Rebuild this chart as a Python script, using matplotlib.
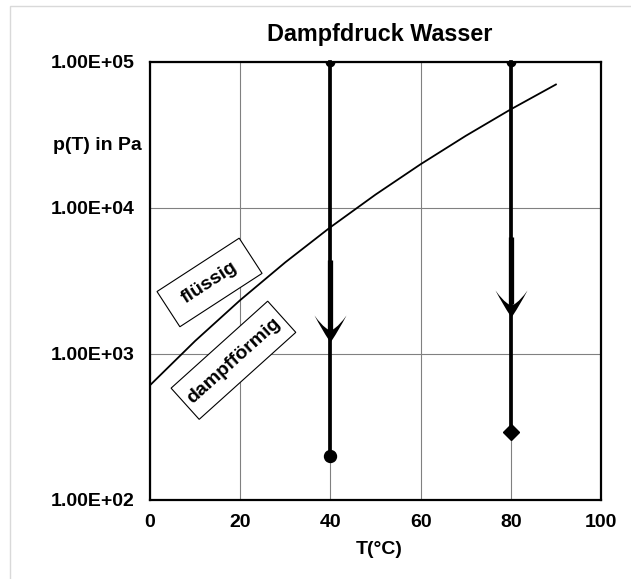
import matplotlib
matplotlib.use("Agg")
import matplotlib.pyplot as plt
import matplotlib.ticker as mticker
from matplotlib.path import Path
from matplotlib.patches import Rectangle
from matplotlib.transforms import Affine2D, ScaledTranslation

plt.rcParams['font.family'] = ['Liberation Sans', 'DejaVu Sans']

# Vapor pressure of water
temps = [0, 10, 20, 30, 40, 50, 60, 70, 80, 90]
pressures = [611, 1228, 2339, 4246, 7384, 12350, 19940, 31190, 47410, 70140]

# Process lines (isothermal pressure drop)
line_x = [40, 80]
line_top = [1e5, 1e5]
line_bottom = [200, 290]
arrow_start = [4400, 6300]
arrow_tip = [1200, 1800]
bottom_markers = ['o', 'D']

# Region labels
label_texts = ['flüssig', 'dampfförmig']
label_x = [13.2, 18.5]
label_y = [3090, 906]

x_ticks = [0, 20, 40, 60, 80, 100]
y_ticks = [1e2, 1e3, 1e4, 1e5]

fig = plt.figure(figsize=(6.31, 5.79), dpi=100)
fig.patches.append(Rectangle((10/631, -0.05), 1.1, 1.05 - 6/579, transform=fig.transFigure,
                             fill=False, edgecolor='#d9d9d9', lw=1.0))
ax = fig.add_axes([150/631, 1 - 500/579, 451/631, 438/579])
ax.set_yscale('log')
ax.set_xlim(0, 100)
ax.set_ylim(1e2, 1e5)
ax.set_xticks(x_ticks)
ax.set_yticks(y_ticks)
ax.yaxis.set_minor_locator(mticker.NullLocator())
ax.yaxis.set_major_formatter(mticker.FuncFormatter(lambda v, p: f"{v:.2E}"))
ax.tick_params(length=0, labelsize=14)
ax.tick_params(axis='x', pad=10)
ax.tick_params(axis='y', pad=11)
for lab in ax.get_xticklabels() + ax.get_yticklabels():
    lab.set_fontweight('bold')
ax.grid(True, color='#808080', lw=0.8)
for s in ax.spines.values():
    s.set_linewidth(1.6)

ax.plot(temps, pressures, color='black', lw=1.3, zorder=3)

# swept-back arrowhead marker, tip at origin, pointing down (pixel-like units)
head_verts = [(0, 0), (2, 3), (8, 12), (16, 27), (9, 17), (2.5, 13), (0, 12), (-2.5, 13),
              (-9, 17), (-16, 27), (-8, 12), (-2, 3), (0, 0), (0, 0)]
head_codes = [Path.MOVETO, Path.LINETO, Path.CURVE3, Path.CURVE3, Path.CURVE3, Path.CURVE3,
              Path.LINETO, Path.LINETO, Path.CURVE3, Path.CURVE3, Path.CURVE3, Path.CURVE3,
              Path.LINETO, Path.CLOSEPOLY]
head = Path(head_verts, head_codes)

for x, top, bot, a0, a1, m in zip(line_x, line_top, line_bottom, arrow_start, arrow_tip, bottom_markers):
    ax.plot([x, x], [top, bot], color='black', lw=2.7, zorder=4, clip_on=False)
    ax.plot([x], [top], marker='o', color='black', ms=6, zorder=5)
    ax.plot([x], [bot], marker=m, color='black', ms=8.6 if m == 'o' else 8, zorder=5, clip_on=False)
    ax.plot([x, x], [a0, a1 * 1.22], color='black', lw=3.8, zorder=4, solid_capstyle='butt')
    ax.plot([x], [a1], marker=head, color='black', ms=39, zorder=6, markeredgewidth=0)

# rotated boxes (sizes in pixels) with labels
box_sizes = [(98, 42), (130, 42)]
angles = [33, 42]
for t, x, y, (w, h), ang in zip(label_texts, label_x, label_y, box_sizes, angles):
    tr = Affine2D().rotate_deg(ang) + ScaledTranslation(x, y, ax.transData)
    ax.add_patch(Rectangle((-w / 2, -h / 2), w, h, transform=tr, fc='white', ec='black',
                           lw=0.8, zorder=7, clip_on=False))
    ax.text(x, y, t, rotation=ang, rotation_mode='anchor', ha='center', va='center',
            fontsize=14, fontweight='bold', zorder=8)

fig.text(380/631, 1 - 35/579, 'Dampfdruck Wasser', ha='center', va='center',
         fontsize=16.8, fontweight='bold')
fig.text(97.5/631, 1 - 150/579, 'p(T) in Pa', ha='center', va='baseline',
         fontsize=14, fontweight='bold')
fig.text(379/631, 1 - 549/579, 'T(°C)', ha='center', va='center',
         fontsize=14, fontweight='bold')

fig.savefig('out.png', dpi=100)
